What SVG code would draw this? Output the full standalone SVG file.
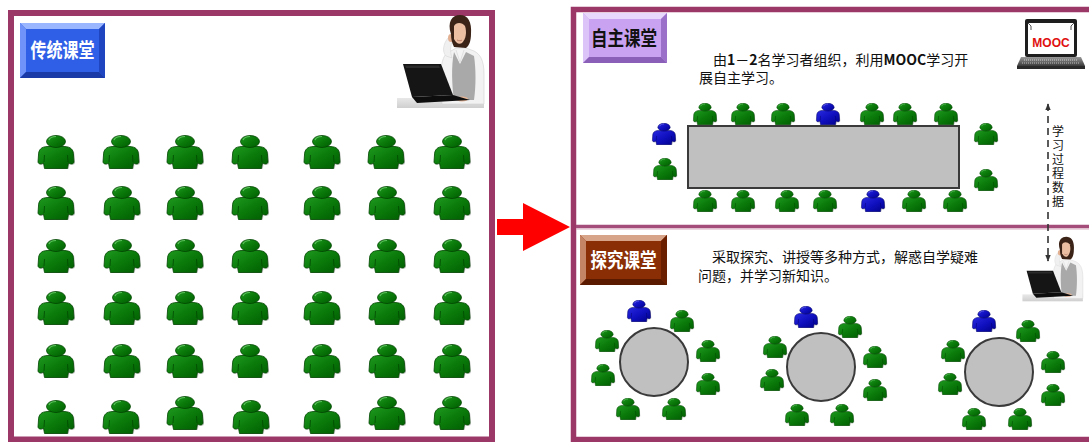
<svg xmlns="http://www.w3.org/2000/svg" xmlns:xlink="http://www.w3.org/1999/xlink" width="1089" height="442" viewBox="0 0 1089 442">
  <style>
    .frame { fill: none; stroke: #9c3868; }
    .cn { font-family: "Noto Sans CJK SC", "Noto Sans", sans-serif; }
    .body { font-size: 14px; fill: #111; }
    .lat { font-weight: bold; }
    .btn { font-size: 20px; font-weight: bold; text-anchor: middle; }
    .table { fill: #c0c0c0; stroke: #3a3a3a; stroke-width: 2; }
    .dash { stroke: #333; stroke-width: 1.6; stroke-dasharray: 7 5; fill: none; }
    .vert { writing-mode: vertical-rl; text-orientation: upright; font-size: 12px; letter-spacing: 2px; fill: #111; }
  </style>
  <defs>
    <linearGradient id="gGreen" x1="0" y1="0" x2="1" y2="1">
      <stop offset="0" stop-color="#1f9a1f"/>
      <stop offset="0.5" stop-color="#0a7a0a"/>
      <stop offset="1" stop-color="#005c00"/>
    </linearGradient>
    <linearGradient id="gBlue" x1="0" y1="0" x2="1" y2="1">
      <stop offset="0" stop-color="#2a2ae0"/>
      <stop offset="0.5" stop-color="#1010c0"/>
      <stop offset="1" stop-color="#00008a"/>
    </linearGradient>
    <linearGradient id="gBase" x1="0" y1="0" x2="0" y2="1">
      <stop offset="0" stop-color="#9a9a9a"/>
      <stop offset="1" stop-color="#3a3a3a"/>
    </linearGradient>
    <linearGradient id="gDesk" x1="0" y1="0" x2="0" y2="1">
      <stop offset="0" stop-color="#e8e8e8"/>
      <stop offset="1" stop-color="#cfcfcf"/>
    </linearGradient>
    <!-- seated person icon, green -->
    <symbol id="man-g" viewBox="0 0 38 34">
      <path d="M11,11.5 C4,11.5 1.5,15 1.5,20 L1,27 C1.5,29.5 4.5,29.5 6.5,28 L7.5,33.5 L30.5,33.5 L31.5,28 C33.5,29.5 36.5,29.5 37,27 L36.5,20 C36.5,15 34,11.5 27,11.5 Z" fill="#000" opacity="0.18" transform="translate(1.2,0.8)"/>
      <path d="M11,11.5 C4,11.5 1.5,15 1.5,20 L1,27 C1.5,29.5 4.5,29.5 6.5,28 L7.5,33.5 L30.5,33.5 L31.5,28 C33.5,29.5 36.5,29.5 37,27 L36.5,20 C36.5,15 34,11.5 27,11.5 Z" fill="url(#gGreen)" stroke="#004400" stroke-width="0.8"/>
      <path d="M7,27 L7.5,20 M31,27 L30.5,20" stroke="#004400" stroke-width="0.7" fill="none"/>
      <ellipse cx="19" cy="6.5" rx="9.5" ry="6" fill="url(#gGreen)" stroke="#004400" stroke-width="0.8"/>
      <path d="M12,5 C13,2.5 16,1.5 19,1.5" stroke="#5cc05c" stroke-width="1.2" fill="none"/>
    </symbol>
    <!-- seated person icon, blue -->
    <symbol id="man-b" viewBox="0 0 38 34">
      <path d="M11,11.5 C4,11.5 1.5,15 1.5,20 L1,27 C1.5,29.5 4.5,29.5 6.5,28 L7.5,33.5 L30.5,33.5 L31.5,28 C33.5,29.5 36.5,29.5 37,27 L36.5,20 C36.5,15 34,11.5 27,11.5 Z" fill="#000" opacity="0.18" transform="translate(1.2,0.8)"/>
      <path d="M11,11.5 C4,11.5 1.5,15 1.5,20 L1,27 C1.5,29.5 4.5,29.5 6.5,28 L7.5,33.5 L30.5,33.5 L31.5,28 C33.5,29.5 36.5,29.5 37,27 L36.5,20 C36.5,15 34,11.5 27,11.5 Z" fill="url(#gBlue)" stroke="#000066" stroke-width="0.8"/>
      <path d="M7,27 L7.5,20 M31,27 L30.5,20" stroke="#000066" stroke-width="0.7" fill="none"/>
      <ellipse cx="19" cy="6.5" rx="9.5" ry="6" fill="url(#gBlue)" stroke="#000066" stroke-width="0.8"/>
      <path d="M12,5 C13,2.5 16,1.5 19,1.5" stroke="#6a6af0" stroke-width="1.2" fill="none"/>
    </symbol>
    <!-- teacher on the phone with a laptop -->
    <symbol id="teacher" viewBox="0 0 90 95">
      <rect x="1" y="84" width="87" height="10" fill="url(#gDesk)"/>
      <!-- shirt and vest -->
      <path d="M50,40 C46,44 44,56 45,70 L46,90 L88,90 L88,60 C88,46 84,40 78,37 L70,34 L60,34 Z" fill="#f2f2f2" stroke="#d0d0d0" stroke-width="0.6"/>
      <path d="M58,38 L64,50 L70,38 L78,42 C80,55 80,72 78,86 L58,86 C56,72 55,52 58,38 Z" fill="#a9a9a9"/>
      <path d="M60,36 L64,48 L68,36" fill="#f4f4f4" stroke="#cfcfcf" stroke-width="0.5"/>
      <!-- raised arm to phone -->
      <path d="M50,42 C46,38 47,30 52,24 L57,26 C54,32 54,38 56,44 Z" fill="#f0f0f0" stroke="#d0d0d0" stroke-width="0.5"/>
      <ellipse cx="55" cy="24" rx="3" ry="4" fill="#e3b092"/>
      <!-- hair and face -->
      <path d="M55,20 C51,8 56,1 64,1 C72,1 76,8 75,20 C75,27 73,32 70,34 L58,33 C56,29 55,25 55,20 Z" fill="#3b2317"/>
      <path d="M58,12 C60,8 66,8 69,12 C71,18 70,25 66,29 C63,31 60,29 58,25 Z" fill="#ecbfa3"/>
      <path d="M61,26 C63,27 65,27 66,26" stroke="#b0705a" stroke-width="0.8" fill="none"/>
      <!-- hands on keyboard -->
      <ellipse cx="66" cy="85" rx="6" ry="2.5" fill="#e6b496"/>
      <!-- laptop -->
      <path d="M7,50 L45,50 L57,81 L16,83 Z" fill="#151515"/>
      <path d="M9,51.5 L43,51.5 L44,54 L10,54 Z" fill="#3a3a3a" opacity="0.6"/>
      <path d="M16,83 L57,81 L74,86 L21,89 Z" fill="#0d0d0d"/>
    </symbol>
    <marker id="tip" viewBox="0 0 10 10" refX="9" refY="5" markerWidth="7" markerHeight="7" markerUnits="userSpaceOnUse" orient="auto-start-reverse">
      <path d="M0,1 L10,5 L0,9 Z" fill="#333"/>
    </marker>
  </defs>

  <rect width="1089" height="442" fill="#fff"/>

  <!-- frames -->
  <rect class="frame" x="11" y="13" width="481" height="426.5" stroke-width="6"/>
  <rect class="frame" x="573.5" y="9.5" width="526" height="430" stroke-width="5.5"/>
  <line x1="576" y1="226.5" x2="1089" y2="226.5" stroke="#a44c7a" stroke-width="3.5"/>
  <line x1="576" y1="229" x2="1089" y2="229" stroke="#d7aec2" stroke-width="1.2"/>

  <!-- traditional classroom -->
  <g id="traditional">
    <g id="btn-traditional">
      <rect x="20" y="23" width="85" height="55" fill="#2f5fe6"/>
      <polygon points="20,23 105,23 99,29 26,29" fill="#9ab6ff"/>
      <polygon points="20,23 26,29 26,72 20,78" fill="#6f93f8"/>
      <polygon points="105,23 105,78 99,72 99,29" fill="#1f45c0"/>
      <polygon points="20,78 26,72 99,72 105,78" fill="#1a3aa8"/>
      <text class="cn btn" x="62.5" y="58" fill="#fff" font-size="22" textLength="64" lengthAdjust="spacingAndGlyphs">传统课堂</text>
    </g>
    <use id="teacher-1" href="#teacher" x="396" y="14" width="90" height="95"/>
    <g id="students-rows">
      <use href="#man-g" x="37" y="135" width="38" height="34"/>
      <use href="#man-g" x="102" y="135" width="38" height="34"/>
      <use href="#man-g" x="166" y="135" width="38" height="34"/>
      <use href="#man-g" x="231" y="135" width="38" height="34"/>
      <use href="#man-g" x="303" y="135" width="38" height="34"/>
      <use href="#man-g" x="367" y="135" width="38" height="34"/>
      <use href="#man-g" x="433" y="135" width="38" height="34"/>

      <use href="#man-g" x="37" y="186" width="38" height="34"/>
      <use href="#man-g" x="103" y="186" width="38" height="34"/>
      <use href="#man-g" x="166" y="186" width="38" height="34"/>
      <use href="#man-g" x="231" y="186" width="38" height="34"/>
      <use href="#man-g" x="303" y="186" width="38" height="34"/>
      <use href="#man-g" x="368" y="186" width="38" height="34"/>
      <use href="#man-g" x="433" y="186" width="38" height="34"/>

      <use href="#man-g" x="37" y="239" width="38" height="34"/>
      <use href="#man-g" x="103" y="239" width="38" height="34"/>
      <use href="#man-g" x="166" y="239" width="38" height="34"/>
      <use href="#man-g" x="231" y="239" width="38" height="34"/>
      <use href="#man-g" x="303" y="239" width="38" height="34"/>
      <use href="#man-g" x="368" y="239" width="38" height="34"/>
      <use href="#man-g" x="433" y="239" width="38" height="34"/>

      <use href="#man-g" x="37" y="291" width="38" height="34"/>
      <use href="#man-g" x="103" y="291" width="38" height="34"/>
      <use href="#man-g" x="166" y="291" width="38" height="34"/>
      <use href="#man-g" x="231" y="291" width="38" height="34"/>
      <use href="#man-g" x="303" y="291" width="38" height="34"/>
      <use href="#man-g" x="368" y="291" width="38" height="34"/>
      <use href="#man-g" x="433" y="291" width="38" height="34"/>

      <use href="#man-g" x="37" y="344" width="38" height="34"/>
      <use href="#man-g" x="103" y="344" width="38" height="34"/>
      <use href="#man-g" x="166" y="344" width="38" height="34"/>
      <use href="#man-g" x="231" y="344" width="38" height="34"/>
      <use href="#man-g" x="303" y="344" width="38" height="34"/>
      <use href="#man-g" x="368" y="344" width="38" height="34"/>
      <use href="#man-g" x="433" y="344" width="38" height="34"/>

      <use href="#man-g" x="37" y="400" width="38" height="34"/>
      <use href="#man-g" x="102" y="400" width="38" height="34"/>
      <use href="#man-g" x="166" y="396" width="38" height="34"/>
      <use href="#man-g" x="232" y="400" width="38" height="34"/>
      <use href="#man-g" x="303" y="400" width="38" height="34"/>
      <use href="#man-g" x="368" y="396" width="38" height="34"/>
      <use href="#man-g" x="433" y="396" width="38" height="34"/>
    </g>
  </g>

  <!-- transition arrow -->
  <g id="connectors">
    <polygon id="arrow-main" points="497,219 523,219 523,203 570,227 523,251 523,235 497,235" fill="#ff0000"/>
    <line id="arrow-data" class="dash" x1="1048" y1="104" x2="1048" y2="261" marker-start="url(#tip)" marker-end="url(#tip)"/>
  </g>

  <!-- self-directed classroom -->
  <g id="self-study">
    <g id="btn-self">
      <rect x="583" y="13" width="84" height="50" fill="#c9a2f2"/>
      <polygon points="583,13 667,13 661,19 589,19" fill="#e8d8fb"/>
      <polygon points="583,13 589,19 589,57 583,63" fill="#dcc4f8"/>
      <polygon points="667,13 667,63 661,57 661,19" fill="#9a70c8"/>
      <polygon points="583,63 589,57 661,57 667,63" fill="#8a5fb8"/>
      <text class="cn btn" x="624" y="45.5" fill="#111" font-size="20" textLength="66" lengthAdjust="spacingAndGlyphs">自主课堂</text>
    </g>
    <text class="cn body" x="713" y="65">由<tspan class="lat">1</tspan>－<tspan class="lat">2</tspan>名学习者组织，利用<tspan class="lat">MOOC</tspan>学习开</text>
    <text class="cn body" x="699" y="83">展自主学习。</text>

    <g id="mooc-laptop">
      <rect x="1025" y="19" width="52" height="38" rx="2" fill="#1e1e1e"/>
      <rect x="1028" y="23" width="46" height="31" fill="#fff"/>
      <path d="M1028,23 L1031,26 L1031,30 M1074,23 L1071,26 L1071,30" stroke="#555" stroke-width="1" fill="none"/>
      <text x="1051" y="47" text-anchor="middle" font-family="Liberation Sans, Arial, sans-serif" font-weight="bold" font-size="12" fill="#e01010">MOOC</text>
      <polygon points="1021,57 1081,57 1085,66 1017,66" fill="url(#gBase)"/>
      <line x1="1024" y1="60" x2="1078" y2="60" stroke="#cfcfcf" stroke-width="1" stroke-dasharray="1 1"/>
      <line x1="1022" y1="63" x2="1080" y2="63" stroke="#bdbdbd" stroke-width="1" stroke-dasharray="1 1"/>
      <rect x="1017" y="66" width="68" height="3" fill="#2a2a2a"/>
    </g>

    <rect id="long-table" class="table" x="688" y="126" width="271" height="62"/>
    <g id="table-seats">
      <use href="#man-g" x="692.5" y="103" width="25" height="22"/>
      <use href="#man-g" x="730.5" y="103" width="25" height="22"/>
      <use href="#man-g" x="770.5" y="103" width="25" height="22"/>
      <use href="#man-b" x="815.5" y="103" width="25" height="22"/>
      <use href="#man-g" x="859.5" y="103" width="25" height="22"/>
      <use href="#man-g" x="892.5" y="103" width="25" height="22"/>
      <use href="#man-g" x="933.5" y="103" width="25" height="22"/>

      <use href="#man-g" x="692.5" y="190" width="25" height="22"/>
      <use href="#man-g" x="730.5" y="190" width="25" height="22"/>
      <use href="#man-g" x="774.5" y="190" width="25" height="22"/>
      <use href="#man-g" x="812.5" y="190" width="25" height="22"/>
      <use href="#man-b" x="860.5" y="190" width="25" height="22"/>
      <use href="#man-g" x="901.5" y="190" width="25" height="22"/>
      <use href="#man-g" x="942.5" y="190" width="25" height="22"/>

      <use href="#man-b" x="651.5" y="123" width="25" height="22"/>
      <use href="#man-g" x="652.5" y="158" width="25" height="22"/>
      <use href="#man-g" x="973.5" y="123" width="25" height="22"/>
      <use href="#man-g" x="973.5" y="169" width="25" height="22"/>
    </g>

    <!-- vertical label beside the data arrow -->
    <text class="cn vert" x="1058" y="125">学习过程数据</text>
  </g>

  <!-- inquiry classroom -->
  <g id="inquiry">
    <g id="btn-inquiry">
      <rect x="580" y="235" width="87" height="50" fill="#8a2e06"/>
      <polygon points="580,235 667,235 661,241 586,241" fill="#d7a48a"/>
      <polygon points="580,235 586,241 586,279 580,285" fill="#c48466"/>
      <polygon points="667,235 667,285 661,279 661,241" fill="#6a2000"/>
      <polygon points="580,285 586,279 661,279 667,285" fill="#5a1a00"/>
      <text class="cn btn" x="623.5" y="268" fill="#fff" font-size="21" textLength="66" lengthAdjust="spacingAndGlyphs">探究课堂</text>
    </g>
    <text class="cn body" x="712" y="262">采取探究、讲授等多种方式，解惑自学疑难</text>
    <text class="cn body" x="698" y="281">问题，并学习新知识。</text>

    <use id="teacher-2" href="#teacher" x="1020" y="236" width="66" height="66"/>

    <circle id="round-table-1" class="table" cx="654" cy="362" r="34"/>
    <circle id="round-table-2" class="table" cx="821" cy="367" r="34"/>
    <circle id="round-table-3" class="table" cx="999" cy="372" r="34"/>

    <g id="group-1">
      <use href="#man-b" x="626.5" y="300" width="25" height="22"/>
      <use href="#man-g" x="669.5" y="310" width="25" height="22"/>
      <use href="#man-g" x="594.5" y="330" width="25" height="22"/>
      <use href="#man-g" x="695.5" y="340" width="25" height="22"/>
      <use href="#man-g" x="590.5" y="364" width="25" height="22"/>
      <use href="#man-g" x="695.5" y="373" width="25" height="22"/>
      <use href="#man-g" x="615.5" y="398" width="25" height="22"/>
      <use href="#man-g" x="661.5" y="398" width="25" height="22"/>
    </g>
    <g id="group-2">
      <use href="#man-b" x="793.5" y="306" width="25" height="22"/>
      <use href="#man-g" x="837.5" y="316" width="25" height="22"/>
      <use href="#man-g" x="762.5" y="336" width="25" height="22"/>
      <use href="#man-g" x="862.5" y="346" width="25" height="22"/>
      <use href="#man-g" x="759.5" y="369" width="25" height="22"/>
      <use href="#man-g" x="862.5" y="379" width="25" height="22"/>
      <use href="#man-g" x="784.5" y="404" width="25" height="22"/>
      <use href="#man-g" x="829.5" y="404" width="25" height="22"/>
    </g>
    <g id="group-3">
      <use href="#man-b" x="971.5" y="310" width="25" height="22"/>
      <use href="#man-g" x="1015.5" y="320" width="25" height="22"/>
      <use href="#man-g" x="940.5" y="340" width="25" height="22"/>
      <use href="#man-g" x="1040.5" y="351" width="25" height="22"/>
      <use href="#man-g" x="937.5" y="373" width="25" height="22"/>
      <use href="#man-g" x="1040.5" y="384" width="25" height="22"/>
      <use href="#man-g" x="961.5" y="408" width="25" height="22"/>
      <use href="#man-g" x="1007.5" y="408" width="25" height="22"/>
    </g>
  </g>
</svg>
